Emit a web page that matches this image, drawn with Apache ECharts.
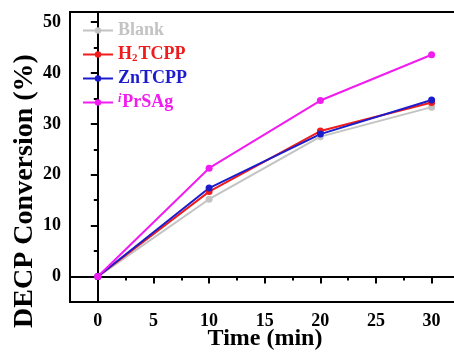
<!DOCTYPE html>
<html><head><meta charset="utf-8">
<script src="https://cdn.jsdelivr.net/npm/echarts@6/dist/echarts.min.js"></script>
<style>html,body{margin:0;padding:0;background:#fff}#c{width:454px;height:353px}</style>
</head><body><div id="c"></div>
<script>
const times = [0, 10, 20, 30];
const blank = [0, 15.2, 27.5, 33.3];
const h2tcpp = [0, 16.7, 28.6, 34.2];
const zntcpp = [0, 17.4, 28.0, 34.7];
const iprsag = [0, 21.3, 34.6, 43.6];
const xMajor = [0, 5, 10, 15, 20, 25, 30];
const xMinor = [2.5, 7.5, 12.5, 17.5, 22.5, 27.5, 32.5];
const yMajor = [0, 10, 20, 30, 40, 50];
const yMinor = [5, 15, 25, 35, 45];

const F = '"Liberation Serif","Times New Roman",serif';
const names = ['Blank', 'H2TCPP', 'ZnTCPP', 'iPrSAg'];
const colors = ['#c3c3c3', '#ee1c1c', '#1c1ccc', '#f01cf0'];
const vals = [blank, h2tcpp, zntcpp, iprsag];

const chart = echarts.init(document.getElementById('c'));
const axisBase = (extra) => Object.assign({
  type: 'value',
  nameMoveOverlap: false,
  axisLine: {show: true, lineStyle: {color: '#000', width: 2}},
  splitLine: {show: false}
}, extra);

chart.setOption({
  animation: false,
  grid: {left: 70, top: 12, bottom: 51, right: -11, outerBoundsMode: 'none', containLabel: false,
         show: true, borderColor: '#000', borderWidth: 2},
  legend: {
    orient: 'vertical', left: 77, top: 16, itemWidth: 30, itemHeight: 8, itemGap: 5,
    data: names,
    formatter: function (n) {
      if (n === 'Blank') return '{g|Blank}';
      if (n === 'H2TCPP') return '{r|H}{rs|2}{r|TCPP}';
      if (n === 'ZnTCPP') return '{b|ZnTCPP}';
      return '{pi|i}{p|PrSAg}';
    },
    textStyle: {
      fontFamily: F, fontWeight: 'bold', fontSize: 18, lineHeight: 19,
      rich: {
        g: {color: colors[0], fontFamily: F, fontWeight: 'bold', fontSize: 18},
        r: {color: colors[1], fontFamily: F, fontWeight: 'bold', fontSize: 18},
        rs: {color: colors[1], fontFamily: F, fontWeight: 'bold', fontSize: 11, verticalAlign: 'bottom', padding: [0, 1, 0, 0]},
        b: {color: colors[2], fontFamily: F, fontWeight: 'bold', fontSize: 18},
        pi: {color: colors[3], fontFamily: F, fontWeight: 'bold', fontStyle: 'italic', fontSize: 12, verticalAlign: 'top', padding: [0, 1, 0, 0]},
        p: {color: colors[3], fontFamily: F, fontWeight: 'bold', fontSize: 18}
      }
    }
  },
  xAxis: [
    axisBase({
      min: -2.5, max: 33,
      name: 'Time (min)', nameLocation: 'middle', nameGap: 25,
      nameTextStyle: {fontFamily: F, fontWeight: 'bold', fontSize: 24, color: '#000', padding: [0, 5, 0, 0]},
      axisTick: {show: true, inside: false, length: 7, customValues: xMajor, lineStyle: {color: '#000', width: 2}},
      axisLabel: {customValues: xMajor, margin: 10, fontFamily: F, fontWeight: 'bold', fontSize: 18, color: '#000'}
    }),
    axisBase({
      min: -2.5, max: 33, position: 'bottom',
      axisLine: {show: false},
      axisTick: {show: true, inside: false, length: 4, customValues: xMinor, lineStyle: {color: '#000', width: 2}},
      axisLabel: {show: false}
    })
  ],
  yAxis: [
    axisBase({
      min: -5, max: 52,
      name: 'DECP Conversion (%)', nameLocation: 'middle', nameGap: 31,
      nameTextStyle: {fontFamily: F, fontWeight: 'bold', fontSize: 28, color: '#000', padding: [0, 68, 0, 0]},
      axisTick: {show: true, inside: false, length: 7, customValues: yMajor, lineStyle: {color: '#000', width: 2}},
      axisLabel: {customValues: yMajor, margin: 9, fontFamily: F, fontWeight: 'bold', fontSize: 18, color: '#000'}
    }),
    axisBase({
      min: -5, max: 52, position: 'left',
      axisLine: {show: false},
      axisTick: {show: true, inside: false, length: 4, customValues: yMinor, lineStyle: {color: '#000', width: 2}},
      axisLabel: {show: false}
    })
  ],
  series: names.map((n, i) => ({
    name: n, type: 'line', xAxisIndex: 0, yAxisIndex: 0,
    data: times.map((t, j) => [t, vals[i][j]]),
    symbol: 'circle', symbolSize: 7, showSymbol: true,
    lineStyle: {color: colors[i], width: 2},
    itemStyle: {color: colors[i]}
  }))
});
</script></body></html>
